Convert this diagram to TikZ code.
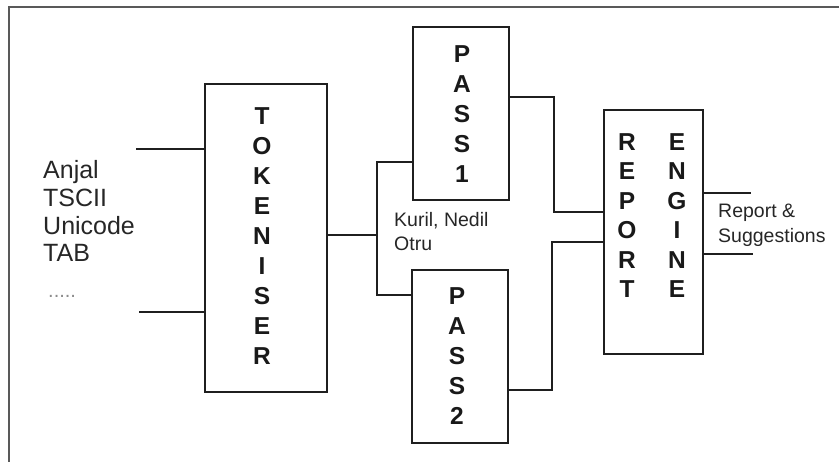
\documentclass[tikz,border=0pt]{standalone}
\usepackage{fontspec}
\setmainfont{Liberation Sans}
\begin{document}
\begin{tikzpicture}[x=1pt,y=-1pt,
  blk/.style={draw=black!88, line width=1.4pt, inner sep=0pt, fill=none},
  wire/.style={draw=black!88, line width=1.3pt},
  stack/.style={align=center, inner sep=0pt, text=black!90,
    font=\fontsize{24.5}{30}\selectfont\bfseries},
  stackb/.style={align=center, inner sep=0pt, text=black!90,
    font=\fontsize{24.5}{29.4}\selectfont\bfseries},
  inlab/.style={anchor=base west, inner sep=0pt, text=black!85,
    font=\fontsize{25}{28}\selectfont},
  smlab/.style={anchor=base west, inner sep=0pt, text=black!85,
    font=\fontsize{19.5}{25}\selectfont}]
\useasboundingbox (0,0) rectangle (839,462);
% frame (top and left edges only)
\draw[line width=2pt, draw=black!65] (9,462) -- (9,7) -- (839,7);

% boxes
\node[blk, minimum width=122pt, minimum height=308pt] (tok) at (266,238) {};
\node[blk, minimum width=96pt, minimum height=173pt] (p1) at (461,113.5) {};
\node[blk, minimum width=96pt, minimum height=173pt] (p2) at (460,356.5) {};
\node[blk, minimum width=99pt, minimum height=244pt] (rep) at (653.5,232) {};

% box texts
\node[stack] (tokl) at (262,236.5) {T\\O\\K\\E\\N\\I\\S\\E\\R};
\node[stack] (p1l) at (462,114) {P\\A\\S\\S\\1};
\node[stack] (p2l) at (457,356) {P\\A\\S\\S\\2};
\node[stackb] (repl) at (627,215.5) {R\\E\\P\\O\\R\\T};
\node[stackb] (engl) at (677,215.5) {E\\N\\G\\I\\N\\E};

% input labels
\node[inlab] (l1) at (43,179) {Anjal};
\node[inlab] (l2) at (43,207) {TSCII};
\node[inlab] (l3) at (43,235) {Unicode};
\node[inlab] (l4) at (43,262) {TAB};
\node[inlab, text=black!45, font=\fontsize{20}{28}\selectfont] (l5) at (48,298) {.....};

% middle and output labels
\node[smlab] (k1) at (394,227) {Kuril, Nedil};
\node[smlab] (k2) at (394,251) {Otru};
\node[smlab] (o1) at (718,218) {Report \&};
\node[smlab] (o2) at (718,243) {Suggestions};

% coordinates
\coordinate (in1) at (136,149);
\coordinate (in2) at (139,312);
\coordinate (sp) at (377,235);
\coordinate (spt) at (377,162);
\coordinate (spb) at (377,295);
\coordinate (j1) at (554,97);
\coordinate (j2) at (552,390);
\coordinate (out1) at (751,193);
\coordinate (out2) at (753,254);

% connectors
\draw[wire] (in1) -- (in1 -| tok.west);
\draw[wire] (in2) -- (in2 -| tok.west);
\draw[wire] (sp -| tok.east) -- (sp);
\draw[wire] (spt -| p1.west) -- (spt) -- (spb) -- (spb -| p2.west);
\draw[wire] (j1 -| p1.east) -- (j1) -- (554,212) -- (rep.west |- 0,212);
\draw[wire] (j2 -| p2.east) -- (j2) -- (552,242) -- (rep.west |- 0,242);
\draw[wire] (out1 -| rep.east) -- (out1);
\draw[wire] (out2 -| rep.east) -- (out2);
\end{tikzpicture}
\end{document}
